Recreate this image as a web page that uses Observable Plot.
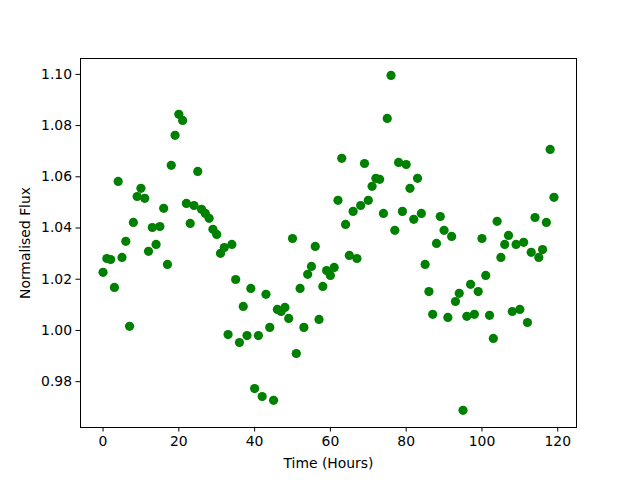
<!DOCTYPE html>
<html>
<head>
<meta charset="utf-8">
<script src="https://cdn.jsdelivr.net/npm/d3@7"></script>
<script src="https://cdn.jsdelivr.net/npm/@observablehq/plot@0.6"></script>
<style>
  html, body { margin: 0; padding: 0; background: #fff; }
</style>
</head>
<body>
<div id="chart"></div>
<script>
const hours = [
  0,1,2,3,4,5,6,7,8,9,10,11,12,13,14,15,16,17,18,19,
  20,21,22,23,24,25,26,27,28,29,30,31,32,33,34,35,36,37,38,39,
  40,41,42,43,44,45,46,47,48,49,50,51,52,53,54,55,56,57,58,59,
  60,61,62,63,64,65,66,67,68,69,70,71,72,73,74,75,76,77,78,79,
  80,81,82,83,84,85,86,87,88,89,90,91,92,93,94,95,96,97,98,99,
  100,101,102,103,104,105,106,107,108,109,110,111,112,113,114,115,116,117,118,119
];
const flux = [
  1.0227,1.0281,1.0277,1.0168,1.0582,1.0285,1.0348,1.0016,1.0422,1.0523,
  1.0555,1.0516,1.0309,1.0402,1.0336,1.0406,1.0477,1.0258,1.0645,1.0762,
  1.0844,1.0820,1.0496,1.0418,1.0488,1.0621,1.0473,1.0457,1.0438,1.0395,
  1.0375,1.0301,1.0324,0.9984,1.0336,1.0199,0.9953,1.0094,0.9980,1.0164,
  0.9773,0.9980,0.9742,1.0141,1.0012,0.9727,1.0082,1.0074,1.0090,1.0047,
  1.0359,0.9910,1.0164,1.0012,1.0219,1.0250,1.0328,1.0043,1.0172,1.0234,
  1.0215,1.0246,1.0508,1.0672,1.0414,1.0293,1.0465,1.0281,1.0488,1.0652,
  1.0508,1.0563,1.0594,1.0590,1.0457,1.0828,1.0996,1.0391,1.0656,1.0465,
  1.0648,1.0555,1.0434,1.0594,1.0457,1.0258,1.0152,1.0063,1.0340,1.0445,
  1.0391,1.0051,1.0367,1.0113,1.0145,0.9688,1.0055,1.0180,1.0063,1.0152,
  1.0359,1.0215,1.0059,0.9969,1.0426,1.0285,1.0336,1.0371,1.0074,1.0336,
  1.0082,1.0344,1.0031,1.0305,1.0441,1.0285,1.0316,1.0422,1.0707,1.0520
];
const xTicks = [0, 20, 40, 60, 80, 100, 120];
const yTicks = [0.98, 1.00, 1.02, 1.04, 1.06, 1.08, 1.10];
const xLabel = "Time (Hours)";
const yLabel = "Normalised Flux";

const data = hours.map((h, i) => ({hour: h, flux: flux[i]}));

const chart = Plot.plot({
  width: 640,
  height: 480,
  marginTop: 58,
  marginRight: 64,
  marginBottom: 53,
  marginLeft: 80,
  style: {fontFamily: "DejaVu Sans", fontSize: "13.9px", color: "black", background: "white"},
  x: {domain: [-5.95, 124.95]},
  y: {domain: [0.9621, 1.1062]},
  marks: [
    Plot.dot(data, {x: "hour", y: "flux", r: 4.6, fill: "#008000", stroke: "none"}),
    Plot.frame({stroke: "black", strokeWidth: 1}),
    Plot.axisX({ticks: xTicks, tickSize: 4.5, tickPadding: 4, tickFormat: d3.format("d"),
      label: xLabel, labelAnchor: "center", labelArrow: false, labelOffset: 40, strokeWidth: 1}),
    Plot.axisY({ticks: yTicks, tickSize: 4.5, tickPadding: 4, tickFormat: d3.format(".2f"),
      label: yLabel, labelAnchor: "center", labelArrow: false, labelOffset: 60, strokeWidth: 1})
  ]
});
document.getElementById("chart").appendChild(chart);
</script>
</body>
</html>
